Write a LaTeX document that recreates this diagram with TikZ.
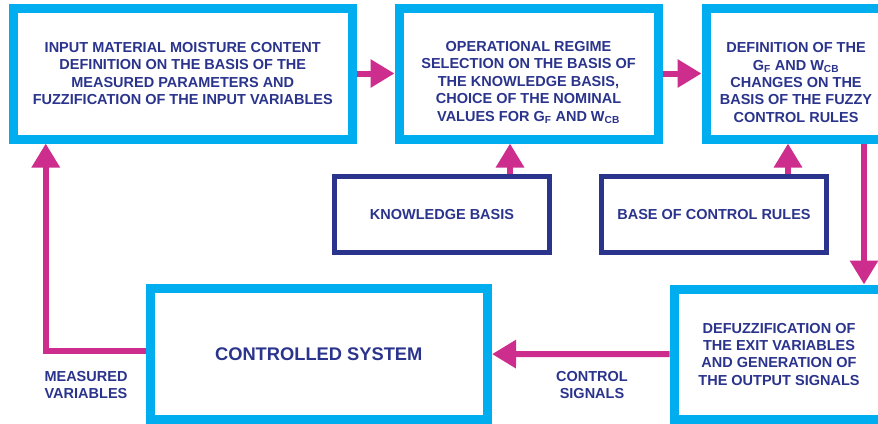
\documentclass[tikz,border=0pt]{standalone}
\usepackage{fontspec}
\setmainfont{Liberation Sans}
\usetikzlibrary{arrows.meta,positioning}
\definecolor{skyCyan}{RGB}{0,174,239}
\definecolor{inkNavy}{RGB}{43,52,140}
\definecolor{signalPink}{RGB}{205,45,140}
\newcommand{\toppad}{\rule{0pt}{28pt}}

\begin{document}
\begin{tikzpicture}[x=1pt, y=1pt,
  blk/.style={rectangle, draw=skyCyan, line width=9pt, fill=white,
              align=center, text=inkNavy, inner sep=0pt,
              font=\fontsize{14.5}{17.4}\selectfont\bfseries},
  base/.style={rectangle, draw=inkNavy, line width=5pt, fill=white,
               minimum width=#1, minimum height=76pt, text=inkNavy,
               font=\fontsize{14.5}{17.4}\selectfont\bfseries},
  lbl/.style={align=center, text=inkNavy,
              font=\fontsize{14.5}{17.4}\selectfont\bfseries},
  arr/.style={-{Triangle[width=27pt,length=24pt]}, line width=6pt,
              signalPink},
  node distance=38pt
]
  \useasboundingbox (0,0) rectangle (878,-423);
  \fill[white] (0,0) rectangle (878,-423);
  \clip (0,0) rectangle (878,-423);

  \node[blk, minimum width=338.5pt, minimum height=131pt]
    (A) at (182.75,-73.5)
    {INPUT MATERIAL MOISTURE CONTENT\\DEFINITION ON THE BASIS OF THE\\
     MEASURED PARAMETERS AND\\FUZZIFICATION OF THE INPUT VARIABLES};
  \node[blk, minimum width=259pt, minimum height=131pt, right=38pt of A]
    (B) {\toppad OPERATIONAL REGIME\\SELECTION ON THE BASIS OF\\
     THE KNOWLEDGE BASIS,\\CHOICE OF THE NOMINAL\\
     VALUES FOR G\textsubscript{F} AND W\textsubscript{CB}};
  \node[blk, minimum width=180pt, minimum height=131pt, right=39pt of B]
    (C) {\toppad DEFINITION OF THE\\G\textsubscript{F} AND W\textsubscript{CB}\\
     CHANGES ON THE\\BASIS OF THE FUZZY\\CONTROL RULES};

  \node[base=215pt] (KB)  at (442,-214.5) {KNOWLEDGE BASIS};
  \node[base=225pt] (BCR) at (714,-214.5) {BASE OF CONTROL RULES};

  \node[blk, minimum width=337.5pt, minimum height=131pt,
        font=\fontsize{18.3}{22}\selectfont\bfseries]
    (CS) at (318.75,-354) {CONTROLLED SYSTEM};
  \node[blk, minimum width=210pt, minimum height=130.5pt]
    (D) at (779,-354.25)
    {DEFUZZIFICATION OF\\THE EXIT VARIABLES\\
     AND GENERATION OF\\THE OUTPUT SIGNALS};

  \draw[arr] (A) -- (B);
  \draw[arr] (B) -- (C);
  \draw[arr] ([xshift=68pt]KB.north) -- ([xshift=68pt]KB.north |- B.south);
  \draw[arr] ([xshift=74pt]BCR.north) -- ([xshift=74pt]BCR.north |- C.south);
  \draw[arr] ([xshift=68pt]C.south) -- ([xshift=68pt]C.south |- D.north);
  \draw[arr] (D) -- (CS);
  \draw[arr] ([yshift=3pt]CS.west) -| ([xshift=-137pt]A.south);

  \node[lbl] (mv) at (86,-385)  {MEASURED\\VARIABLES};
  \node[lbl] (cs) at (592,-385) {CONTROL\\SIGNALS};
\end{tikzpicture}
\end{document}
